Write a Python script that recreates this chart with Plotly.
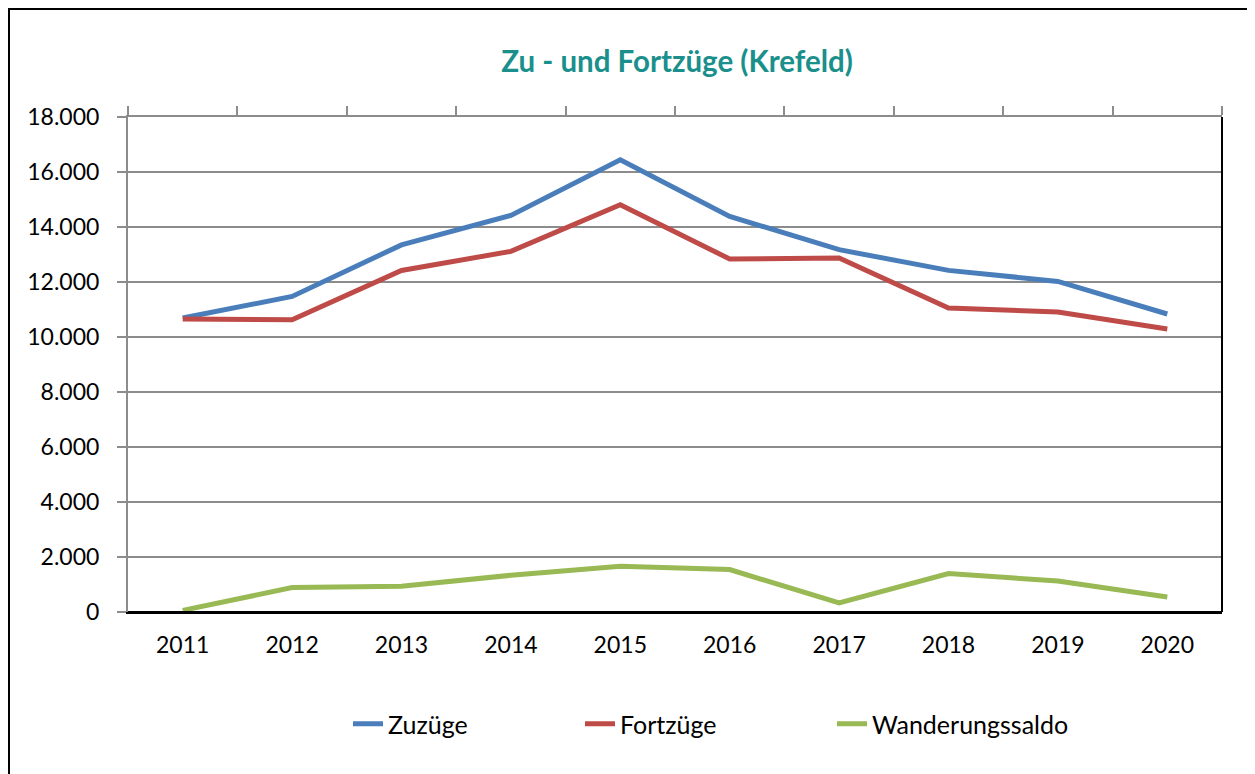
import plotly.graph_objects as go

years = ["2011", "2012", "2013", "2014", "2015", "2016", "2017", "2018", "2019", "2020"]
zuzuege = [10690, 11476, 13350, 14422, 16447, 14385, 13175, 12422, 12022, 10836]
fortzuege = [10655, 10629, 12420, 13113, 14811, 12836, 12873, 11055, 10909, 10291]
saldo = [60, 887, 935, 1335, 1662, 1542, 327, 1396, 1127, 545]

series_names = ["Zuzüge", "Fortzüge", "Wanderungssaldo"]
colors = ["#4a7ebb", "#be4b48", "#98b954"]

FONT = "Lato"
W, H = 1255, 774
OFF = 8  # page body margin in the browser
# plot area in page pixels: x 128..1222, y 117..612
L, T = 128 - OFF, 117 - OFF
R = W - (1222 - OFF)
B = H - (612 - OFF)
PW, PH = W - L - R, H - T - B


def px_x(xp):  # page px -> paper
    return (xp - OFF - L) / PW


def px_y(yp):
    return 1 - (yp - OFF - T) / PH


fig = go.Figure()
legend_ids = ["legend", "legend2", "legend3"]
x_axes = ["x", "x", "x2"]
for name, vals, c, lg, xa in zip(series_names, [zuzuege, fortzuege, saldo], colors,
                                 legend_ids, x_axes):
    fig.add_trace(go.Scatter(x=years, y=vals, name=name, mode="lines",
                             line=dict(color=c, width=5), legend=lg,
                             xaxis=xa, yaxis="y"))

legend_text_starts = [388, 620, 872]
leg_common = dict(orientation="h", xanchor="left", yanchor="middle",
                  y=px_y(724), font=dict(family=FONT, size=25, color="black"),
                  bgcolor="rgba(0,0,0,0)")
legends = {}
for lg, ts in zip(legend_ids, legend_text_starts):
    legends[lg] = dict(leg_common, x=px_x(ts - 40))

fig.update_layout(
    width=W, height=H,
    margin=dict(l=L, r=R, t=T, b=B),
    paper_bgcolor="white", plot_bgcolor="white",
    separators=",.",
    font=dict(family=FONT, size=23, color="black"),
    title=dict(text="<b>Zu - und Fortzüge (Krefeld)</b>", x=(677 - OFF) / W, xanchor="center",
               y=1 - (62 - OFF) / H, yanchor="middle",
               font=dict(family=FONT, size=29.5, color="#1a8f8c")),
    xaxis=dict(type="category", categoryorder="array", categoryarray=years,
               range=[-0.5, 9.5], showgrid=False,
               showline=True, linecolor="black", linewidth=2,
               ticks="", ticklabelstandoff=11,
               tickfont=dict(family=FONT, size=23, color="black")),
    xaxis2=dict(type="category", categoryorder="array", categoryarray=years,
                overlaying="x", side="top", anchor="y", range=[-0.5, 9.5], showgrid=False,
                showline=True, linecolor="#8c8c8c", linewidth=2,
                tickson="boundaries",
                ticks="outside", ticklen=9, tickwidth=2, tickcolor="#8c8c8c",
                showticklabels=False, zeroline=False),
    yaxis=dict(range=[0, 18000], dtick=2000, tickformat=",d",
               showgrid=True, gridcolor="#8c8c8c", gridwidth=2,
               showline=True, linecolor="#8c8c8c", linewidth=2,
               ticks="outside", ticklen=9, tickwidth=2, tickcolor="#8c8c8c",
               ticklabelstandoff=13, zeroline=False,
               tickfont=dict(family=FONT, size=23, color="black")),
    showlegend=True,
    **legends,
)

# right frame line of plot area, bottom line, and outer chart border
fig.add_shape(type="line", xref="paper", yref="paper", x0=1, x1=1, y0=0, y1=1,
              line=dict(color="black", width=2))
fig.add_shape(type="line", xref="paper", yref="paper", x0=0, x1=1, y0=0, y1=0,
              line=dict(color="black", width=2))
fig.add_shape(type="line", xref="paper", yref="paper",
              x0=px_x(9), x1=px_x(9), y0=px_y(8), y1=px_y(H + 20),
              line=dict(color="black", width=2))
fig.add_shape(type="line", xref="paper", yref="paper",
              x0=px_x(8), x1=px_x(W + 20), y0=px_y(9), y1=px_y(9),
              line=dict(color="black", width=2))
fig.add_shape(type="line", xref="paper", yref="paper",
              x0=px_x(1254), x1=px_x(1254), y0=px_y(8), y1=px_y(H + 20),
              line=dict(color="#c8c8c8", width=1))

fig.write_html("out.html")
